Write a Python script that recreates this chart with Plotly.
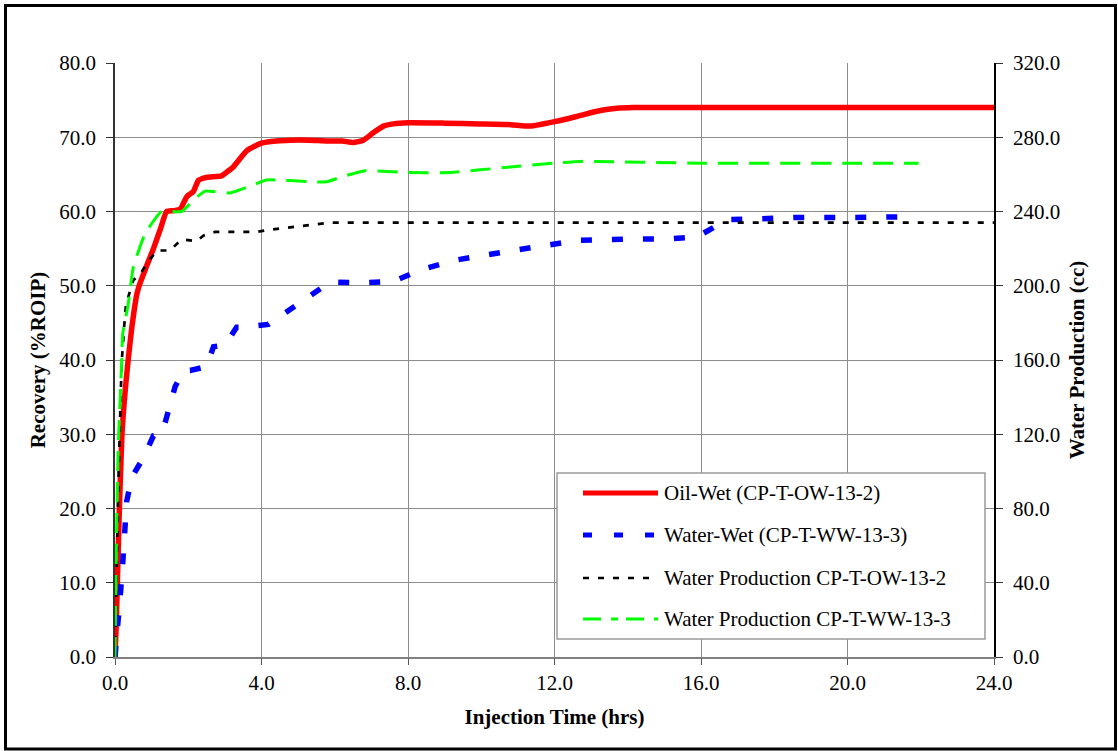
import plotly.graph_objects as go

# ---------------- data ----------------
# Oil-Wet (CP-T-OW-13-2) recovery, %ROIP (left axis)
oil_t = [0, 0.03, 0.064, 0.12, 0.19, 0.28, 0.36, 0.45, 0.59, 0.66, 0.85, 1.05, 1.25, 1.41, 1.6, 1.78,
         1.96, 2.14, 2.28, 2.5, 2.91, 3.05, 3.23, 3.6, 4.0, 4.4, 4.78, 5.3, 5.78, 6.2, 6.5, 6.78,
         7.05, 7.33, 7.6, 8.0, 9.0, 9.96, 10.8, 11.34, 12.0, 12.6, 13.25, 13.7, 14.15, 16.0, 18.0,
         20.0, 22.0, 24.0]
oil_rec = [0, 4, 10, 20, 30, 36, 40, 44, 48.7, 50, 52.5, 55, 57.8, 60, 60.1, 60.3,
           62, 62.7, 64.2, 64.6, 64.8, 65.3, 66, 68.2, 69.2, 69.5, 69.6, 69.6, 69.5, 69.5, 69.3, 69.6,
           70.6, 71.5, 71.8, 71.95, 71.9, 71.8, 71.7, 71.5, 72.1, 72.8, 73.6, 73.9, 74.0, 74.0, 74.0,
           74.0, 74.0, 74.0]

# Water-Wet (CP-T-WW-13-3) recovery, %ROIP (left axis)
ww_t = [0, 0.02, 0.09, 0.155, 0.21, 0.246, 0.32, 0.46, 0.77, 1.05, 1.27, 1.37, 1.5, 1.64, 1.87, 2.05,
        2.5, 2.69, 3.0, 3.32, 3.5, 4.19, 4.96, 5.87, 6.74, 7.6, 8.38, 9.24, 10.06, 10.93, 11.79,
        12.61, 14.25, 15.07, 15.9, 16.71, 17.62, 18.53, 20.13, 21.9]
ww_rec = [0, 1, 5, 9, 12.6, 16.7, 21, 24.2, 26.8, 29.8, 30, 31.6, 33.8, 36.4, 38.6, 38.6,
          39.1, 41.8, 42, 44.4, 44.4, 44.8, 47.4, 50.5, 50.4, 50.6, 52.2, 53.4, 54.1, 54.8, 55.5,
          56.1, 56.3, 56.3, 56.6, 58.9, 59.0, 59.2, 59.2, 59.3]

# Water Production CP-T-OW-13-2, cc (right axis)
wp_ow_t = [0, 0.027, 0.046, 0.09, 0.12, 0.14, 0.18, 0.25, 0.3, 0.5, 0.68, 0.87, 1.14, 1.5, 1.82,
           2.23, 2.41, 2.73, 3.87, 4.15, 4.96, 5.87, 8.0, 12.0, 16.0, 20.0, 24.0]
wp_ow_cc = [0, 28, 60, 92, 114, 135, 158, 178, 190, 203, 206, 212, 219, 219, 225,
            224, 227, 229, 229, 230, 232, 234, 234, 234, 234, 234, 234]

# Water Production CP-T-WW-13-3, cc (right axis)
wp_ww_t = [0, 0.018, 0.046, 0.09, 0.155, 0.18, 0.21, 0.36, 0.5, 0.82, 1.27, 1.82, 2.19, 2.46, 3.14,
           3.73, 4.14, 5.42, 5.78, 6.24, 6.83, 8.0, 9.15, 10.8, 11.97, 12.7, 16.0, 20.0, 21.94]
wp_ww_cc = [0, 28, 71, 114, 146, 158, 174, 190, 210, 228, 240, 240, 247, 251, 250,
            254, 257, 256, 256, 259, 262, 261, 261, 264, 266, 267, 266, 266, 266]

series_names = ["Oil-Wet (CP-T-OW-13-2)", "Water-Wet (CP-T-WW-13-3)",
                "Water Production CP-T-OW-13-2", "Water Production CP-T-WW-13-3"]

x_ticks = [0, 4, 8, 12, 16, 20, 24]
y_ticks = [0, 10, 20, 30, 40, 50, 60, 70, 80]
y2_ticks = [0, 40, 80, 120, 160, 200, 240, 280, 320]

# ---------------- styling ----------------
FONT = "Liberation Serif, Times New Roman, serif"
RED, BLUE, BLACK, GREEN = "#FF0000", "#0000FF", "#000000", "#00FF00"

fig = go.Figure()
fig.add_trace(go.Scatter(x=oil_t, y=oil_rec, name=series_names[0], mode="lines",
                         line=dict(color=RED, width=5.5, shape="spline", smoothing=0.5),
                         yaxis="y"))
fig.add_trace(go.Scatter(x=ww_t, y=ww_rec, name=series_names[1], mode="lines",
                         line=dict(color=BLUE, width=5.5, dash="11px,20px"), yaxis="y"))
fig.add_trace(go.Scatter(x=wp_ow_t, y=wp_ow_cc, name=series_names[2], mode="lines",
                         line=dict(color=BLACK, width=2.7, dash="6px,9px"), yaxis="y2"))
fig.add_trace(go.Scatter(x=wp_ww_t, y=wp_ww_cc, name=series_names[3], mode="lines",
                         line=dict(color=GREEN, width=3, dash="20px,11px",
                                   shape="spline", smoothing=0.4), yaxis="y2"))

W, H = 1118, 751
L, R, T, B = 115, 994, 63, 657


def px(x):
    return (x - L) / (R - L)


def py(y):
    return (B - y) / (B - T)


# manual legend (long line samples as in the original)
shapes = []
annotations = []
shapes.append(dict(type="rect", xref="paper", yref="paper", x0=px(557), x1=px(985),
                   y0=py(639), y1=py(473), line=dict(color="#9a9a9a", width=1.5),
                   fillcolor="white", layer="above"))
legend_styles = [dict(color=RED, width=5, dash="solid"),
                 dict(color=BLUE, width=5, dash="9px,22px"),
                 dict(color=BLACK, width=2.7, dash="6px,9px"),
                 dict(color=GREEN, width=3, dash="18px,10px,7px,8px")]
legend_y = [493, 535, 578, 619]
for name, st, yy in zip(series_names, legend_styles, legend_y):
    shapes.append(dict(type="line", xref="paper", yref="paper", x0=px(583), x1=px(658),
                       y0=py(yy), y1=py(yy), line=st, layer="above"))
    annotations.append(dict(xref="paper", yref="paper", x=px(662), y=py(yy), text=name,
                            showarrow=False, xanchor="left", yanchor="middle",
                            font=dict(family=FONT, size=21, color="black")))

# outer frame
shapes.append(dict(type="rect", xref="paper", yref="paper", x0=px(5.5), x1=px(1115.5),
                   y0=py(749), y1=py(5.5), line=dict(color="black", width=3),
                   fillcolor="rgba(0,0,0,0)", layer="above"))

axis_font = dict(family=FONT, size=21, color="black")
title_font = dict(family=FONT, size=21, color="black", weight="bold")

fig.update_layout(
    width=W, height=H,
    margin=dict(l=L, r=W - R, t=T, b=H - B, autoexpand=False),
    paper_bgcolor="white", plot_bgcolor="white",
    showlegend=False,
    font=dict(family=FONT, size=21, color="black"),
    xaxis=dict(range=[0, 24], tickvals=x_ticks, tickformat=".1f",
               showgrid=True, gridcolor="#8c8c8c", gridwidth=1,
               showline=True, linecolor="#808080", linewidth=1.5,
               ticks="outside", ticklen=6, tickcolor="#555555",
               tickfont=axis_font, zeroline=False,
               title=dict(text="Injection Time (hrs)", font=title_font, standoff=15)),
    yaxis=dict(range=[0, 80], tickvals=y_ticks, tickformat=".1f",
               showgrid=True, gridcolor="#8c8c8c", gridwidth=1,
               showline=True, linecolor="#333333", linewidth=1.5,
               ticks="outside", ticklen=7, tickcolor="#333333",
               tickfont=axis_font, zeroline=False, ticklabelstandoff=6,
               title=dict(text="Recovery (%ROIP)", font=title_font, standoff=8)),
    yaxis2=dict(range=[0, 320], tickvals=y2_ticks, tickformat=".1f",
                overlaying="y", side="right", showgrid=False,
                showline=True, linecolor="black", linewidth=1.5,
                ticks="outside", ticklen=7, tickcolor="#333333",
                tickfont=axis_font, zeroline=False, ticklabelstandoff=6,
                title=dict(text="Water Production (cc)", font=title_font, standoff=10)),
    shapes=shapes,
    annotations=annotations,
)

fig.write_html("out.html")
